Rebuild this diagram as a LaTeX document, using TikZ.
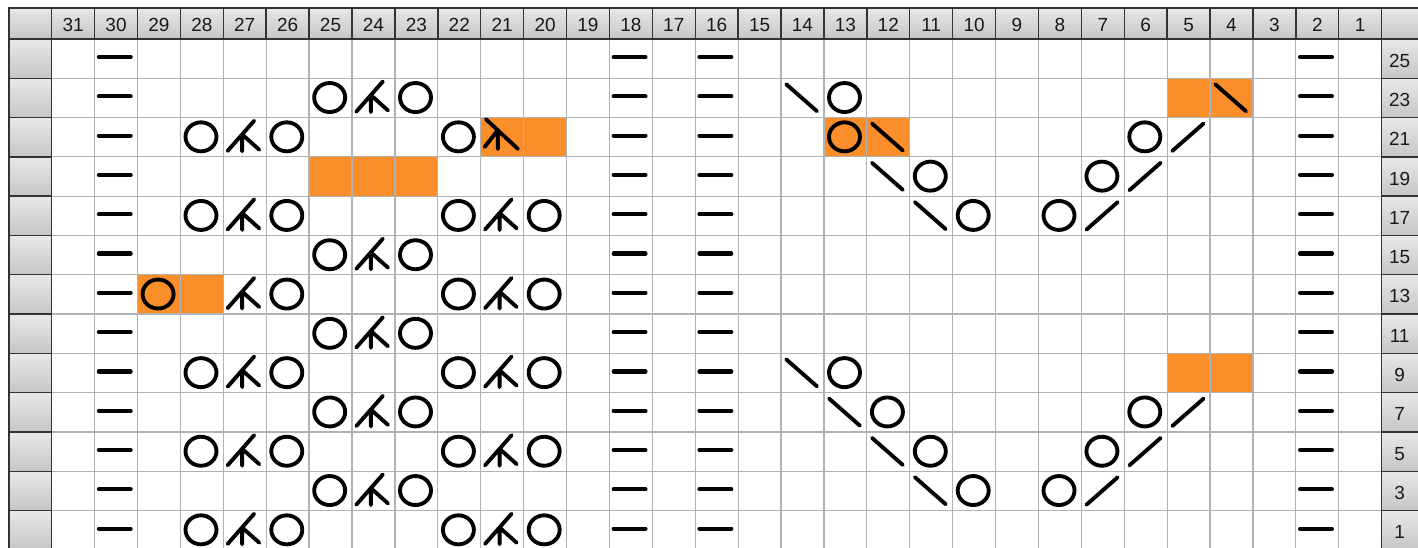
\documentclass[tikz,border=0pt]{standalone}
\usepackage{fontspec}
\setmainfont{Liberation Sans}

\definecolor{lace}{RGB}{250,142,42}

\tikzset{
    ink/.style={line width=2.2pt, line cap=round},
    gline/.style={gray!60, line width=0.7pt},
    hdr/.style={top color=gray!18, bottom color=gray!45, draw=black!80, line width=0.8pt},
    lbl/.style={font=\fontsize{10.8}{12}\selectfont, text=black!90, inner sep=0pt},
    yo/.pic={\draw[ink] (-0.02,-0.01) circle [x radius=0.31cm, y radius=0.29cm];},
    purl/.pic={\draw[ink, line width=2.4pt] (-0.4,-0.04) -- (0.34,-0.04);},
    ssk/.pic={\draw[ink] (-0.38,-0.35) -- (0.34,0.34);},
    ktog/.pic={\draw[ink] (-0.38,0.35) -- (0.35,-0.35);},
    sktp/.pic={\draw[ink] (-0.4,0.35) -- (0.22,-0.42) (-0.06,-0.07) -- (-0.06,0.36) (-0.06,-0.07) -- (0.34,0.32);},
    sktpm/.pic={\draw[ink] (-0.38,-0.46) -- (0.37,0.3) (-0.1,-0.18) -- (-0.1,0.3) (-0.1,-0.18) -- (-0.41,0.25);}
}

\begin{document}
\begin{tikzpicture}[x=0.858cm, y=-0.786cm]
    \useasboundingbox (-1.205,-0.992) rectangle (31.848,12.952);
    \clip (-1.205,-0.992) rectangle (31.848,12.952);
    \fill[white] (-1.205,-0.992) rectangle (31.848,12.952);

    % coloured cells, then the grid over them
    \foreach \c/\n in {5/23,4/23,21/21,20/21,13/21,12/21,25/19,24/19,23/19,29/13,28/13,5/9,4/9}
        \fill[lace] ({31-\c},{(25-\n)/2}) rectangle ++(1,1);
    \foreach \i in {1,...,30} \draw[gline] (\i,0) -- (\i,13);
    \foreach \j in {1,...,12} \draw[gline] (0,\j) -- (31,\j);

    % column numbers
    \path[hdr] (-0.995,-0.789) rectangle (0,0);
    \foreach \c in {1,...,31} {
        \path[hdr] ({31-\c},-0.789) rectangle ++(1,0.789);
        \node[lbl] (h\c) at ({31.5-\c},-0.36) {\c};
    }
    \path[hdr] (31,-0.789) rectangle (32,0);

    % row numbers
    \foreach \n in {1,3,...,25} {
        \path[hdr] (-0.995,{(25-\n)/2}) rectangle (0,{(27-\n)/2});
        \path[hdr] (31,{(25-\n)/2}) rectangle (32,{(27-\n)/2});
        \node[lbl] (r\n) at (31.42,{(26-\n)/2+0.05}) {\n};
    }

    % stitches
    \foreach \n in {1,3,...,25}
        \foreach \c in {30,18,16,2}
            \pic at ({31.5-\c},{(26-\n)/2}) {purl};
    \foreach \c/\n in {25/23,23/23,13/23,28/21,26/21,22/21,13/21,6/21,11/19,7/19,
                       28/17,26/17,22/17,20/17,10/17,8/17,25/15,23/15,29/13,26/13,22/13,20/13,
                       25/11,23/11,28/9,26/9,22/9,20/9,13/9,25/7,23/7,12/7,6/7,
                       28/5,26/5,22/5,20/5,11/5,7/5,25/3,23/3,10/3,8/3,28/1,26/1,22/1,20/1}
        \pic at ({31.5-\c},{(26-\n)/2}) {yo};
    \foreach \c/\n in {24/23,27/21,27/17,21/17,24/15,27/13,21/13,24/11,
                       27/9,21/9,24/7,27/5,21/5,24/3,27/1,21/1}
        \pic at ({31.5-\c},{(26-\n)/2}) {sktp};
    \pic at ({31.5-21},{(26-21)/2}) {sktpm};
    \foreach \c/\n in {14/23,4/23,12/21,12/19,11/17,14/9,13/7,12/5,11/3}
        \pic at ({31.5-\c},{(26-\n)/2}) {ssk};
    \foreach \c/\n in {5/21,6/19,7/17,5/7,6/5,7/3}
        \pic at ({31.5-\c},{(26-\n)/2}) {ktog};
\end{tikzpicture}
\end{document}
